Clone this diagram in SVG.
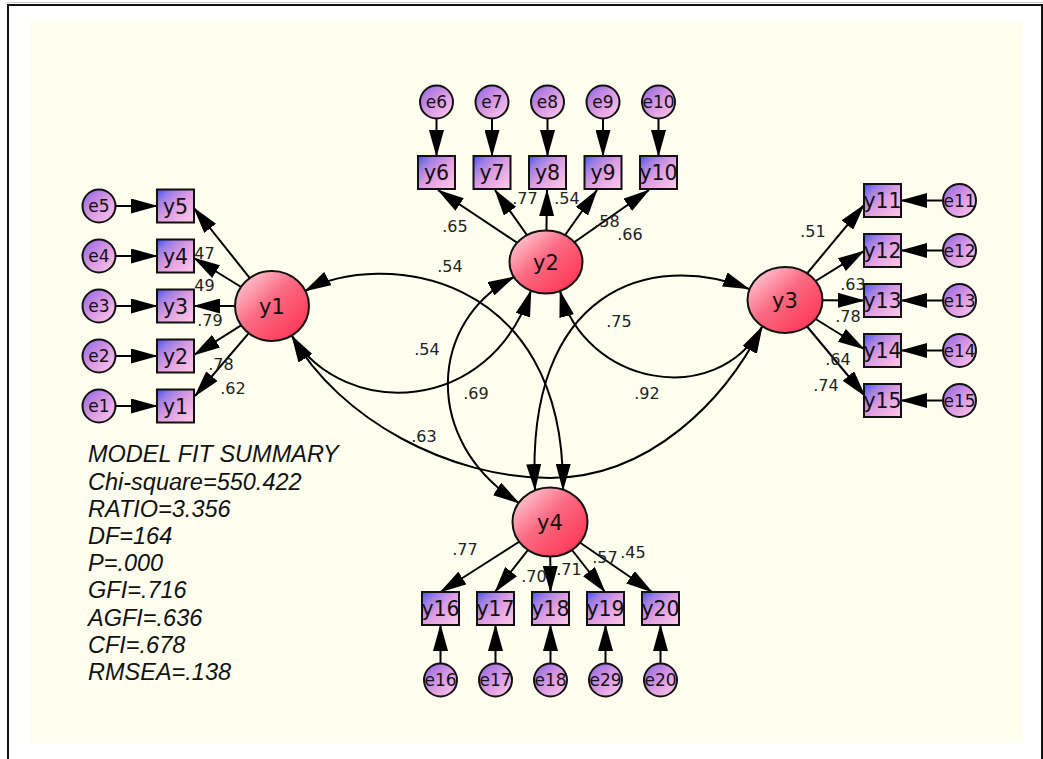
<svg xmlns="http://www.w3.org/2000/svg" width="1043" height="759" viewBox="0 0 1043 759">
<defs>
<linearGradient id="gBox" x1="0" y1="0" x2="1" y2="1">
<stop offset="0" stop-color="#4650f0"/><stop offset="0.22" stop-color="#9c7ee6"/><stop offset="0.5" stop-color="#de9ce0"/><stop offset="1" stop-color="#ffcaea"/>
</linearGradient>
<linearGradient id="gErr" x1="0" y1="0" x2="1" y2="1">
<stop offset="0" stop-color="#8a62e4"/><stop offset="0.5" stop-color="#d898e2"/><stop offset="1" stop-color="#ffcaec"/>
</linearGradient>
<linearGradient id="gLat" x1="0" y1="0" x2="1" y2="1">
<stop offset="0" stop-color="#ffe0e8"/><stop offset="0.45" stop-color="#fb6a82"/><stop offset="1" stop-color="#ff2a4a"/>
</linearGradient>
<marker id="ah" markerUnits="userSpaceOnUse" markerWidth="28" markerHeight="15" refX="26" refY="7.5" orient="auto-start-reverse" viewBox="0 0 28 15">
<path d="M0,0 L27,7.5 L0,15 z" fill="#000"/>
</marker>
<style>
.box{fill:url(#gBox);stroke:#111;stroke-width:2}
.err{fill:url(#gErr);stroke:#111;stroke-width:2}
.lat{fill:url(#gLat);stroke:#111;stroke-width:2}
.t{font-family:"DejaVu Sans","Liberation Sans",sans-serif;text-anchor:middle;fill:#111}
.bl{font-size:20.5px}
.el{font-size:17px}
.ll{font-size:21px}
.w{font-family:"DejaVu Sans","Liberation Sans",sans-serif;font-size:16px;fill:#222;text-anchor:middle}
.fit{font-family:"Liberation Sans",Arial,sans-serif;font-style:italic;font-size:23.5px;fill:#111}
.ln{stroke:#000;stroke-width:2;fill:none;marker-end:url(#ah)}
.cov{stroke:#000;stroke-width:2;fill:none;marker-start:url(#ah);marker-end:url(#ah)}
</style>
</defs>
<rect x="0" y="0" width="1043" height="759" fill="#fff"/>
<line x1="7" y1="2.5" x2="1043" y2="2.5" stroke="#c8c8c8" stroke-width="1"/>
<rect x="8" y="5" width="1034" height="780" fill="#fff" stroke="#111" stroke-width="2"/>
<rect x="30" y="20" width="993" height="723" fill="#fefeef"/>

<g id="connectors">
<path class="ln" d="M115.5,206 L157,206"/>
<path class="ln" d="M115.5,256 L157,256"/>
<path class="ln" d="M115.5,306 L157,306"/>
<path class="ln" d="M115.5,356 L157,356"/>
<path class="ln" d="M115.5,406 L157,406"/>
<path class="ln" d="M436.5,118.5 L436.5,156"/>
<path class="ln" d="M492,118.5 L492,156"/>
<path class="ln" d="M547.5,118.5 L547.5,156"/>
<path class="ln" d="M603,118.5 L603,156"/>
<path class="ln" d="M658.5,118.5 L658.5,156"/>
<path class="ln" d="M943,200.5 L901,200.5"/>
<path class="ln" d="M943,250.5 L901,250.5"/>
<path class="ln" d="M943,300.5 L901,300.5"/>
<path class="ln" d="M943,350.5 L901,350.5"/>
<path class="ln" d="M943,400.5 L901,400.5"/>
<path class="ln" d="M440.5,663.5 L440.5,625"/>
<path class="ln" d="M495.5,663.5 L495.5,625"/>
<path class="ln" d="M550.5,663.5 L550.5,625"/>
<path class="ln" d="M605.5,663.5 L605.5,625"/>
<path class="ln" d="M660.5,663.5 L660.5,625"/>
<path class="ln" d="M272,306 L194,208"/>
<path class="ln" d="M272,306 L194,258"/>
<path class="ln" d="M272,306 L194,306"/>
<path class="ln" d="M272,306 L194,355"/>
<path class="ln" d="M272,306 L195,396"/>
<path class="ln" d="M546,262 L438,190"/>
<path class="ln" d="M546,262 L495,190"/>
<path class="ln" d="M546,262 L547,190"/>
<path class="ln" d="M546,262 L597,190"/>
<path class="ln" d="M546,262 L649,190"/>
<path class="ln" d="M785,300 L864,205"/>
<path class="ln" d="M785,300 L864,251"/>
<path class="ln" d="M785,300 L864,300.5"/>
<path class="ln" d="M785,300 L864,349"/>
<path class="ln" d="M785,300 L865,396"/>
<path class="ln" d="M550,522 L440.5,592"/>
<path class="ln" d="M550,522 L495,592"/>
<path class="ln" d="M550,522 L550.5,592"/>
<path class="ln" d="M550,522 L605,592"/>
<path class="ln" d="M550,522 L652,592"/>
<path class="cov" d="M305,291 C380,250 565,270 563,490"/>
<path class="cov" d="M292,336 C345,420 490,415 531,290.5"/>
<path class="cov" d="M292,336 C340,420 450,478 550,478 C650,478 725,400 762,327"/>
<path class="cov" d="M514,277 C430,320 420,440 519,503"/>
<path class="cov" d="M560,291 C585,385 715,410 762,327"/>
<path class="cov" d="M749,289 C650,250 525,290 535,490"/>
</g>

<g id="labels">
<text class="w" x="202" y="259">.47</text>
<text class="w" x="202" y="291">.49</text>
<text class="w" x="210" y="326">.79</text>
<text class="w" x="221" y="370">.78</text>
<text class="w" x="233" y="394">.62</text>
<text class="w" x="455" y="232">.65</text>
<text class="w" x="525" y="204">.77</text>
<text class="w" x="567" y="204">.54</text>
<text class="w" x="607" y="227">.58</text>
<text class="w" x="630" y="240">.66</text>
<text class="w" x="813" y="237">.51</text>
<text class="w" x="853" y="290">.63</text>
<text class="w" x="848" y="322">.78</text>
<text class="w" x="838" y="365">.64</text>
<text class="w" x="826" y="391">.74</text>
<text class="w" x="465" y="555">.77</text>
<text class="w" x="534" y="582">.70</text>
<text class="w" x="569" y="575">.71</text>
<text class="w" x="605" y="563">.57</text>
<text class="w" x="633" y="558">.45</text>
<text class="w" x="450" y="272">.54</text>
<text class="w" x="427" y="355">.54</text>
<text class="w" x="476" y="399">.69</text>
<text class="w" x="424" y="442">.63</text>
<text class="w" x="619" y="327">.75</text>
<text class="w" x="647" y="399">.92</text>
</g>

<g id="y1"><ellipse class="lat" cx="272" cy="306" rx="37" ry="35"/><text class="t ll" x="272" y="313.5">y1</text></g>
<g id="y2"><ellipse class="lat" cx="546" cy="262" rx="36.5" ry="31.5"/><text class="t ll" x="546" y="269.5">y2</text></g>
<g id="y3"><ellipse class="lat" cx="785" cy="300" rx="37.5" ry="33"/><text class="t ll" x="785" y="307.5">y3</text></g>
<g id="y4"><ellipse class="lat" cx="550" cy="522" rx="37.5" ry="34.5"/><text class="t ll" x="550" y="529.5">y4</text></g>

<g id="ob_y5"><rect class="box" x="157" y="189.5" width="37" height="33"/><text class="t bl" x="175.5" y="213.5">y5</text></g>
<g id="ob_y4"><rect class="box" x="157" y="239.5" width="37" height="33"/><text class="t bl" x="175.5" y="263.5">y4</text></g>
<g id="ob_y3"><rect class="box" x="157" y="289.5" width="37" height="33"/><text class="t bl" x="175.5" y="313.5">y3</text></g>
<g id="ob_y2"><rect class="box" x="157" y="339.5" width="37" height="33"/><text class="t bl" x="175.5" y="363.5">y2</text></g>
<g id="ob_y1"><rect class="box" x="157" y="389.5" width="37" height="33"/><text class="t bl" x="175.5" y="413.5">y1</text></g>

<g id="ob_y6"><rect class="box" x="418" y="156" width="37" height="33"/><text class="t bl" x="436.5" y="180">y6</text></g>
<g id="ob_y7"><rect class="box" x="473.5" y="156" width="37" height="33"/><text class="t bl" x="492" y="180">y7</text></g>
<g id="ob_y8"><rect class="box" x="529" y="156" width="37" height="33"/><text class="t bl" x="547.5" y="180">y8</text></g>
<g id="ob_y9"><rect class="box" x="584.5" y="156" width="37" height="33"/><text class="t bl" x="603" y="180">y9</text></g>
<g id="ob_y10"><rect class="box" x="640" y="156" width="37" height="33"/><text class="t bl" x="658.5" y="180">y10</text></g>

<g id="ob_y11"><rect class="box" x="864" y="184" width="37" height="33"/><text class="t bl" x="882.5" y="208">y11</text></g>
<g id="ob_y12"><rect class="box" x="864" y="234" width="37" height="33"/><text class="t bl" x="882.5" y="258">y12</text></g>
<g id="ob_y13"><rect class="box" x="864" y="284" width="37" height="33"/><text class="t bl" x="882.5" y="308">y13</text></g>
<g id="ob_y14"><rect class="box" x="864" y="334" width="37" height="33"/><text class="t bl" x="882.5" y="358">y14</text></g>
<g id="ob_y15"><rect class="box" x="864" y="384" width="37" height="33"/><text class="t bl" x="882.5" y="408">y15</text></g>

<g id="ob_y16"><rect class="box" x="422" y="592" width="37" height="33"/><text class="t bl" x="440.5" y="616">y16</text></g>
<g id="ob_y17"><rect class="box" x="477" y="592" width="37" height="33"/><text class="t bl" x="495.5" y="616">y17</text></g>
<g id="ob_y18"><rect class="box" x="532" y="592" width="37" height="33"/><text class="t bl" x="550.5" y="616">y18</text></g>
<g id="ob_y19"><rect class="box" x="587" y="592" width="37" height="33"/><text class="t bl" x="605.5" y="616">y19</text></g>
<g id="ob_y20"><rect class="box" x="642" y="592" width="37" height="33"/><text class="t bl" x="660.5" y="616">y20</text></g>

<g id="e5"><circle class="err" cx="99" cy="206" r="16.5"/><text class="t el" x="99" y="212">e5</text></g>
<g id="e4"><circle class="err" cx="99" cy="256" r="16.5"/><text class="t el" x="99" y="262">e4</text></g>
<g id="e3"><circle class="err" cx="99" cy="306" r="16.5"/><text class="t el" x="99" y="312">e3</text></g>
<g id="e2"><circle class="err" cx="99" cy="356" r="16.5"/><text class="t el" x="99" y="362">e2</text></g>
<g id="e1"><circle class="err" cx="99" cy="406" r="16.5"/><text class="t el" x="99" y="412">e1</text></g>

<g id="e6"><circle class="err" cx="436.5" cy="102" r="16.5"/><text class="t el" x="436.5" y="108">e6</text></g>
<g id="e7"><circle class="err" cx="492" cy="102" r="16.5"/><text class="t el" x="492" y="108">e7</text></g>
<g id="e8"><circle class="err" cx="547.5" cy="102" r="16.5"/><text class="t el" x="547.5" y="108">e8</text></g>
<g id="e9"><circle class="err" cx="603" cy="102" r="16.5"/><text class="t el" x="603" y="108">e9</text></g>
<g id="e10"><circle class="err" cx="658.5" cy="102" r="16.5"/><text class="t el" x="658.5" y="108">e10</text></g>

<g id="e11"><circle class="err" cx="959.5" cy="200.5" r="16.5"/><text class="t el" x="959.5" y="206.5">e11</text></g>
<g id="e12"><circle class="err" cx="959.5" cy="250.5" r="16.5"/><text class="t el" x="959.5" y="256.5">e12</text></g>
<g id="e13"><circle class="err" cx="959.5" cy="300.5" r="16.5"/><text class="t el" x="959.5" y="306.5">e13</text></g>
<g id="e14"><circle class="err" cx="959.5" cy="350.5" r="16.5"/><text class="t el" x="959.5" y="356.5">e14</text></g>
<g id="e15"><circle class="err" cx="959.5" cy="400.5" r="16.5"/><text class="t el" x="959.5" y="406.5">e15</text></g>

<g id="e16"><circle class="err" cx="440.5" cy="680" r="16.5"/><text class="t el" x="440.5" y="686">e16</text></g>
<g id="e17"><circle class="err" cx="495.5" cy="680" r="16.5"/><text class="t el" x="495.5" y="686">e17</text></g>
<g id="e18"><circle class="err" cx="550.5" cy="680" r="16.5"/><text class="t el" x="550.5" y="686">e18</text></g>
<g id="e29"><circle class="err" cx="605.5" cy="680" r="16.5"/><text class="t el" x="605.5" y="686">e29</text></g>
<g id="e20"><circle class="err" cx="660.5" cy="680" r="16.5"/><text class="t el" x="660.5" y="686">e20</text></g>

<g id="fit-summary">
<text class="fit" x="88" y="462">MODEL FIT SUMMARY</text>
<text class="fit" x="88" y="489.5">Chi-square=550.422</text>
<text class="fit" x="88" y="516.5">RATIO=3.356</text>
<text class="fit" x="88" y="544">DF=164</text>
<text class="fit" x="88" y="571">P=.000</text>
<text class="fit" x="88" y="598">GFI=.716</text>
<text class="fit" x="88" y="625.5">AGFI=.636</text>
<text class="fit" x="88" y="652.5">CFI=.678</text>
<text class="fit" x="88" y="680">RMSEA=.138</text>
</g>
</svg>
